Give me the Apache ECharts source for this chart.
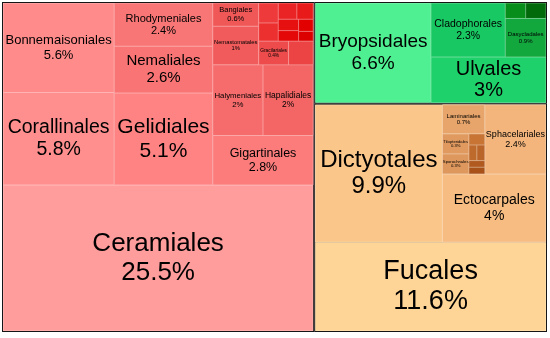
<!DOCTYPE html>
<html><head><meta charset="utf-8">
<script src="https://cdn.jsdelivr.net/npm/echarts@6/dist/echarts.min.js"></script>
<style>html,body{margin:0;padding:0;background:#fff}#c{width:550px;height:338px}</style>
</head><body><div id="c"></div>
<script>
// ---------------- data (percent of all orders) ----------------
const groups = ['Rhodophyta', 'Chlorophyta', 'Phaeophyceae'];

const redOrders = ['Ceramiales','Corallinales','Bonnemaisoniales','Gelidiales','Gigartinales','Nemaliales',
  'Rhodymeniales','Halymeniales','Hapalidiales','Nemastomatales','Bangiales','Gracilariales',
  'Acrochaetiales','Plocamiales','Palmariales','Peyssonneliales','Sporolithales','Ahnfeltiales',
  'Hildenbrandiales','Batrachospermales','Erythropeltidales'];
const redShare = [25.5,5.8,5.6,5.1,2.8,2.6,2.4,2,2,1,0.6,0.4,0.33,0.22,0.2,0.17,0.15,0.13,0.12,0.1,0.08];

const greenOrders = ['Bryopsidales','Ulvales','Cladophorales','Dasycladales','Ulotrichales','Trentepohliales'];
const greenShare = [6.6,3,2.3,0.9,0.18,0.18];

const brownOrders = ['Fucales','Dictyotales','Ectocarpales','Sphacelariales','Laminariales','Tilopteridales',
  'Sporochnales','Desmarestiales','Scytosiphonales','Ralfsiales','Ishigeales','Syringodermatales'];
const brownShare = [11.6,9.9,4,2.4,0.7,0.3,0.3,0.1,0.07,0.07,0.06,0.06];

// ---------------- arrangement (nesting order only) ----------------
const redNest = [
  ['Bonnemaisoniales','Corallinales'],
  [['Rhodymeniales','Nemaliales'],'Gelidiales'],
  [
    [['Bangiales','Nemastomatales'],
     [['Plocamiales','Palmariales','Peyssonneliales','Sporolithales','Ahnfeltiales','Hildenbrandiales','Batrachospermales','Erythropeltidales'],
      ['Gracilariales','Acrochaetiales']]],
    [['Halymeniales','Hapalidiales'],'Gigartinales']
  ],
  'Ceramiales'
];
const greenNest = ['Bryopsidales', [['Cladophorales','Ulotrichales','Trentepohliales','Dasycladales'], 'Ulvales']];
const brownNest = [
  ['Dictyotales', [[['Laminariales','Tilopteridales','Sporochnales','Desmarestiales','Scytosiphonales','Ralfsiales','Ishigeales','Syringodermatales'],'Sphacelariales'],'Ectocarpales']],
  'Fucales'
];

// ---------------- styles ----------------
const colors = {
  Ceramiales:'#FF9C9C', Corallinales:'#FF8F8F', Bonnemaisoniales:'#FF8B8B', Gelidiales:'#FF8383',
  Gigartinales:'#FC7C7C', Nemaliales:'#F97474', Rhodymeniales:'#F87676', Halymeniales:'#F66C6C',
  Hapalidiales:'#F46565', Nemastomatales:'#F15B5B', Bangiales:'#F05757', Gracilariales:'#EE4C4C',
  Acrochaetiales:'#EC4444', Plocamiales:'#EE3A3A', Palmariales:'#EC3030', Peyssonneliales:'#EA2424',
  Sporolithales:'#E81A1A', Ahnfeltiales:'#E61010', Hildenbrandiales:'#E40808', Batrachospermales:'#E20000',
  Erythropeltidales:'#DC0000',
  Bryopsidales:'#4EF092', Ulvales:'#1FD16B', Cladophorales:'#18C862', Dasycladales:'#12A83E',
  Ulotrichales:'#078E1A', Trentepohliales:'#036A0C',
  Fucales:'#FFD597', Dictyotales:'#FBC68A', Ectocarpales:'#F6BC82', Sphacelariales:'#F3B57C',
  Laminariales:'#E7A56B', Tilopteridales:'#E09A60', Sporochnales:'#DE975C', Desmarestiales:'#C77434',
  Scytosiphonales:'#BE6A2C', Ralfsiales:'#B96428', Ishigeales:'#B05A20', Syringodermatales:'#A8521A'
};
const fontSize = {
  Ceramiales:26, Corallinales:19.5, Bonnemaisoniales:13, Gelidiales:21, Gigartinales:12.5, Nemaliales:15,
  Rhodymeniales:11, Halymeniales:7.8, Hapalidiales:8.5, Nemastomatales:5.8, Bangiales:7.5, Gracilariales:4.8,
  Bryopsidales:19, Ulvales:20, Cladophorales:10.5, Dasycladales:6,
  Fucales:27, Dictyotales:24, Ectocarpales:14, Sphacelariales:9, Laminariales:6, Tilopteridales:4.2, Sporochnales:4.2
};
const lineGap = { Ulvales: 1.04 };

const shareOf = {};
[[redOrders, redShare],[greenOrders, greenShare],[brownOrders, brownShare]].forEach(function (p) {
  p[0].forEach(function (n, i) { shareOf[n] = p[1][i]; });
});

function lighten(hex, t) {
  const n = parseInt(hex.slice(1), 16);
  const r = n >> 16, g = (n >> 8) & 255, b = n & 255;
  const f = function (c) { return Math.round(c + (255 - c) * t); };
  return 'rgb(' + f(r) + ',' + f(g) + ',' + f(b) + ')';
}

function build(node, groupBorder) {
  if (typeof node === 'string') {
    const fs = fontSize[node];
    const lg = lineGap[node] || 1.12;
    return {
      name: node, value: shareOf[node],
      itemStyle: { color: colors[node], borderColor: lighten(colors[node], 0.35), borderWidth: 0.5 },
      label: fs ? { show: true, fontSize: fs, lineHeight: Math.round(fs * lg * 10) / 10 } : { show: false }
    };
  }
  return {
    name: '', children: node.map(function (c) { return build(c, groupBorder); }),
    itemStyle: { borderWidth: 0, gapWidth: 0, borderColor: groupBorder }
  };
}

const nests = [redNest, greenNest, brownNest];
const groupBorders = ['#FFB3B3', '#7FE3A8', '#FBD9B0'];
const data = groups.map(function (g, i) {
  return {
    name: g,
    children: nests[i].map(function (c) { return build(c, groupBorders[i]); }),
    itemStyle: { borderWidth: 1, borderColor: '#151515', gapWidth: 0 }
  };
});

const chart = echarts.init(document.getElementById('c'), null, { renderer: 'canvas' });
chart.setOption({
  animation: false,
  series: [{
    type: 'treemap',
    left: 2, top: 2, width: 545, height: 330,
    roam: false, nodeClick: false,
    breadcrumb: { show: false },
    sort: false,
    squareRatio: 1.3,
    visibleMin: 0,
    itemStyle: { borderWidth: 0, gapWidth: 0, borderColor: '#ffffff' },
    upperLabel: { show: false },
    label: {
      show: true, position: 'inside', align: 'center', verticalAlign: 'middle',
      color: '#000', fontFamily: 'Liberation Sans, Arial, sans-serif', padding: 0, overflow: 'none',
      formatter: function (p) { return p.name + '\n' + p.value + '%'; }
    },
    data: data
  }]
});
</script>
</body></html>
